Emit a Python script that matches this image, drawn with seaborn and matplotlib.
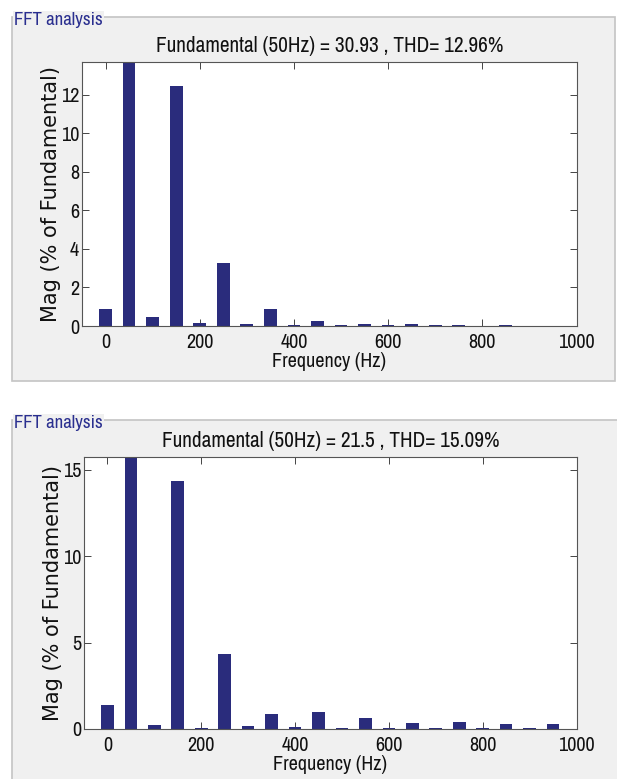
import matplotlib
matplotlib.use("Agg")
import matplotlib.pyplot as plt
from matplotlib.patches import Rectangle
import seaborn as sns
import pandas as pd

# ---- data ----
freqs = [0, 50, 100, 150, 200, 250, 300, 350, 400, 450,
         500, 550, 600, 650, 700, 750, 800, 850, 900, 950]
mag_top = [0.90, 100.0, 0.47, 12.48, 0.16, 3.27, 0.10, 0.87, 0.05, 0.24,
           0.05, 0.12, 0.05, 0.10, 0.05, 0.05, 0.02, 0.05, 0.02, 0.02]
mag_bottom = [1.41, 100.0, 0.23, 14.36, 0.08, 4.36, 0.15, 0.85, 0.12, 0.97,
              0.08, 0.62, 0.04, 0.35, 0.08, 0.39, 0.08, 0.27, 0.08, 0.27]
title_top = "Fundamental (50Hz) = 30.93 , THD= 12.96%"
title_bottom = "Fundamental (50Hz) = 21.5 , THD= 15.09%"
yticks_top = [0, 2, 4, 6, 8, 10, 12]
yticks_bottom = [0, 5, 10, 15]
xticks = [0, 200, 400, 600, 800, 1000]
ylim_top = 13.7
ylim_bottom = 15.73
panel_label = "FFT analysis"
xlabel = "Frequency (Hz)"
ylabel = "Mag (% of Fundamental)"

sns.set_theme(style="white")
narrow = ['Archivo Narrow', 'PT Sans Narrow', 'Liberation Sans', 'DejaVu Sans']
wide = ['DejaVu Sans']
plt.rcParams['font.family'] = narrow

W, H = 617, 779
fig = plt.figure(figsize=(W / 100, H / 100), dpi=100)
fig.patch.set_facecolor("white")

bar_color = "#2a2c7c"
panel_bg = "#f0f0f0"
panel_edge = "#c4c4c4"
txt = "#111111"


def px_rect(x0, y0, x1, y1):
    return [x0 / W, 1 - y1 / H, (x1 - x0) / W, (y1 - y0) / H]


def draw_panel(x0, y0, x1, y1, label_y):
    r = px_rect(x0, y0, x1, y1)
    fig.patches.append(Rectangle((r[0], r[1]), r[2], r[3], transform=fig.transFigure,
                                 facecolor=panel_bg, edgecolor=panel_edge, linewidth=1.2,
                                 zorder=-10))
    fig.text(14 / W, 1 - label_y / H, panel_label, color="#2a2f8f", fontsize=13.5,
             ha="left", va="center", family=narrow, zorder=-5,
             bbox=dict(facecolor=panel_bg, edgecolor="none", pad=1.0))


def draw_chart(rect, values, title, yticks, ymax):
    ax = fig.add_axes(rect)
    ax.set_zorder(5)
    df = pd.DataFrame({"freq": freqs, "mag": values})
    sns.barplot(data=df, x="freq", y="mag", native_scale=True, width=0.54,
                color=bar_color, saturation=1, linewidth=0, ax=ax)
    ax.set_xlim(-50, 1000)
    ax.set_ylim(0, ymax)
    ax.set_xticks(xticks)
    ax.set_yticks(yticks)
    ax.set_facecolor("white")
    for s in ax.spines.values():
        s.set_color("#555555")
        s.set_linewidth(0.8)
        s.set_visible(True)
    ax.tick_params(direction="in", length=5, width=0.7, color="#444444",
                   top=True, right=True, bottom=True, left=True,
                   labelsize=14.5, pad=4, labelcolor=txt)
    ax.tick_params(axis="x", pad=5)
    ax.tick_params(axis="y", pad=2)
    ax.set_xlabel(xlabel, fontsize=14.5, labelpad=0, color=txt)
    ax.set_ylabel(ylabel, fontsize=15, labelpad=0, color=txt, family=wide)
    ax.set_title(title, fontsize=15.3, pad=7, color=txt)
    return ax


draw_panel(12, 17, 615, 381, 20)
draw_panel(12, 420, 640, 800, 423)

draw_chart(px_rect(82, 62, 576.5, 326), mag_top, title_top, yticks_top, ylim_top)
draw_chart(px_rect(84, 457, 576.5, 729), mag_bottom, title_bottom, yticks_bottom, ylim_bottom)

fig.savefig("out.png", dpi=100)
